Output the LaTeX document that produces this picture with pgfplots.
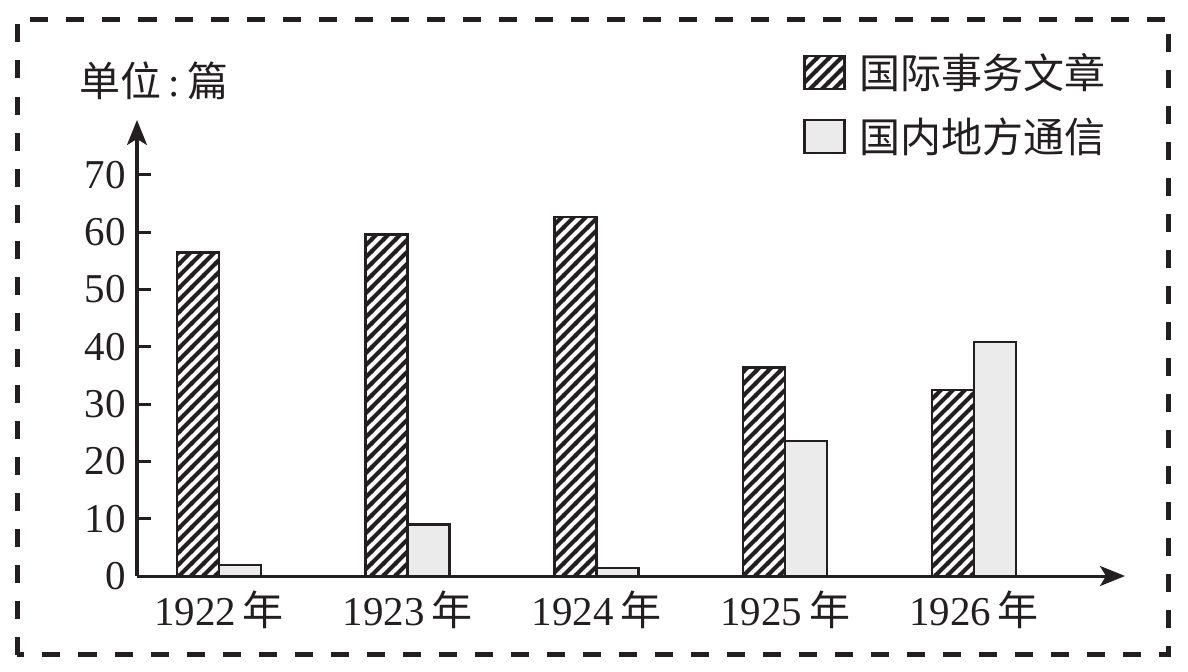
\documentclass[border=0pt]{standalone}
\usepackage{fontspec}
\setmainfont{Liberation Serif}
\newfontfamily\cjk{Noto Sans CJK SC}
\usepackage{pgfplots}
\pgfplotsset{compat=1.18}
\usetikzlibrary{arrows.meta,patterns}

\definecolor{ink}{RGB}{35,31,32}
\definecolor{lightbar}{RGB}{235,235,235}

% thick diagonal hatching like the printed original
\pgfdeclarepatternformonly{thickhatch}{\pgfqpoint{-1pt}{-1pt}}{\pgfqpoint{7pt}{7pt}}{\pgfqpoint{6pt}{6pt}}{%
  \pgfsetlinewidth{2pt}%
  \pgfpathmoveto{\pgfqpoint{-1pt}{-1pt}}%
  \pgfpathlineto{\pgfqpoint{7pt}{7pt}}%
  \pgfusepath{stroke}}

\newcommand\bigfont{\fontsize{20.5pt}{24pt}\selectfont}

\begin{document}
\begin{tikzpicture}
\begin{axis}[
    at={(0,0)}, anchor=south west,
    scale only axis,
    width=494pt, height=228pt,
    xmin=-0.434, xmax=4.8,
    ymin=0, ymax=79.6,
    axis lines=left,
    axis line style={line width=1.5pt, ink},
    x axis line style={-{Stealth[length=12.5pt,width=10pt,inset=3pt]}},
    y axis line style={-{Stealth[length=12.5pt,width=10pt,inset=3pt]}},
    xtick={0,1,2,3,4},
    xticklabels={1922\,{\cjk 年}, 1923\,{\cjk 年}, 1924\,{\cjk 年}, 1925\,{\cjk 年}, 1926\,{\cjk 年}},
    xtick style={draw=none},
    ytick={0,10,...,70},
    ytick style={line width=1.5pt, ink},
    tick align=inside,
    major tick length=7pt,
    tick label style={font=\bigfont, text=ink},
    /pgf/number format/assume math mode=true,
    yticklabel style={xshift=-2pt},
    xticklabel style={yshift=-4pt},
    legend style={at={(0.674,1.155)}, anchor=north west, draw=none, fill=none,
        font=\bigfont, text=ink, inner sep=0pt, row sep=9pt,
        /tikz/every even column/.append style={column sep=0pt}},
    legend cell align=left,
    legend image code/.code={\draw[#1] (0pt,-8.25pt) rectangle (20pt,8.25pt);},
    clip=false,
]
\addplot[ybar, bar width=21pt, bar shift=-10.5pt, draw=ink, line width=1.2pt,
    pattern=thickhatch, pattern color=ink]
    coordinates {(0,56.5) (1,59.6) (2,62.7) (3,36.4) (4,32.5)};
\addlegendentry{\hspace{5pt}\cjk 国际事务文章}
\addplot[ybar, bar width=21pt, bar shift=10.5pt, draw=ink, line width=1.2pt,
    fill=lightbar]
    coordinates {(0,1.9) (1,9.0) (2,1.4) (3,23.6) (4,40.8)};
\addlegendentry{\hspace{5pt}\cjk 国内地方通信}
\node[font=\bigfont, text=ink] at ([xshift=8.5pt,yshift=19.5pt]axis description cs:0,1)
    {{\cjk 单位}\,:\,{\cjk 篇}};
\end{axis}
% page frame and dashed border
\path (-68.5pt,-47.5pt) rectangle (525.5pt,288pt);
\draw[ink, line width=2.5pt, dash pattern=on 9pt off 9pt]
    (-59.75pt,-39.25pt) rectangle (515.5pt,278.25pt);
\end{tikzpicture}
\end{document}
